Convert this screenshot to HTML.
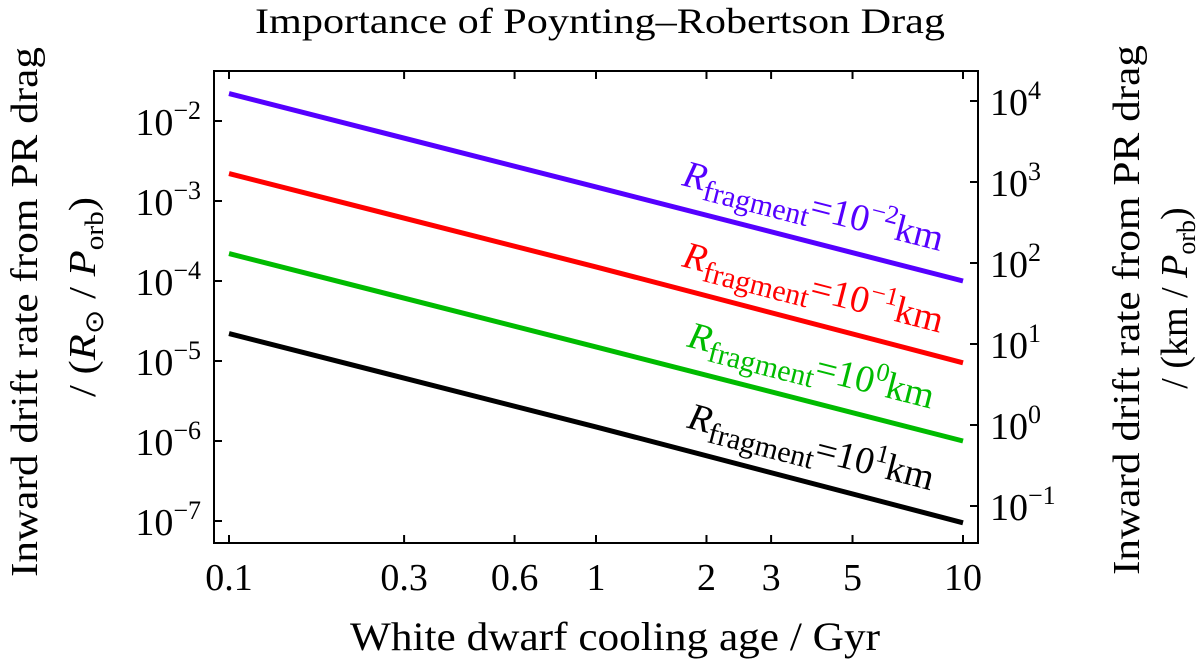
<!DOCTYPE html>
<html><head><meta charset="utf-8"><style>
html,body{margin:0;padding:0;background:#fff}
svg text{font-family:"Liberation Serif",serif}
</style></head><body>
<svg id="chart" width="1200" height="666" viewBox="0 0 1200 666" xmlns="http://www.w3.org/2000/svg">
<text x="600" y="33" text-anchor="middle" font-size="36" textLength="690" lengthAdjust="spacingAndGlyphs">Importance of Poynting–Robertson Drag</text>
<rect x="214" y="71" width="764" height="472" fill="none" stroke="#000" stroke-width="2"/>
<g id="xticks"></g>
<g id="yticks"></g>
<g id="yrticks"></g>
<g id="lines"></g>
<text x="615" y="650" text-anchor="middle" font-size="40" textLength="530" lengthAdjust="spacingAndGlyphs">White dwarf cooling age / Gyr</text>
<text transform="translate(37,312) rotate(-90)" text-anchor="middle" font-size="38" textLength="530" lengthAdjust="spacingAndGlyphs">Inward drift rate from PR drag</text>
<text transform="translate(95,297) rotate(-90)" text-anchor="middle" font-size="38" textLength="200" lengthAdjust="spacingAndGlyphs">/ (<tspan font-style="italic">R</tspan><tspan font-size="26" dy="8">⊙</tspan><tspan dy="-8"> / </tspan><tspan font-style="italic">P</tspan><tspan font-size="26" dy="8">orb</tspan><tspan dy="-8">)</tspan></text>
<text transform="translate(1139,310) rotate(-90)" text-anchor="middle" font-size="38" textLength="530" lengthAdjust="spacingAndGlyphs">Inward drift rate from PR drag</text>
<text transform="translate(1187,298) rotate(-90)" text-anchor="middle" font-size="38">/ (km / <tspan font-style="italic">P</tspan><tspan font-size="26" dy="8">orb</tspan><tspan dy="-8">)</tspan></text>
</svg>
<script>
const xTicks=[0.1,0.3,0.6,1,2,3,5,10];
const xTickLabels=["0.1","0.3","0.6","1","2","3","5","10"];
const yExps=[-2,-3,-4,-5,-6,-7];
const yrExps=[4,3,2,1,0,-1];
const ages=[0.1,1,10];
const purpleVals=[2.2e-2,1.5e-3,1.0e-4];
const redVals=[2.2e-3,1.5e-4,9.5e-6];
const greenVals=[2.2e-4,1.5e-5,1.0e-6];
const blackVals=[2.2e-5,1.5e-6,9.5e-8];
const labelExps=["-2","-1","0","1"];

const NS="http://www.w3.org/2000/svg";
const X=v=>229+367*Math.log10(v/0.1);
const Y=v=>121+80*(-2-Math.log10(v));
const YR=v=>425-81*Math.log10(v);
function mk(tag,attrs,parent){const e=document.createElementNS(NS,tag);for(const k in attrs)e.setAttribute(k,attrs[k]);parent.appendChild(e);return e;}
const sup=e=>(e<0?'−'+(-e):''+e);
const gx=document.getElementById('xticks');
xTicks.forEach((t,i)=>{
  const x=X(t);
  const a=mk('line',{x1:x,x2:x,y1:543,y2:535,stroke:'#000','stroke-width':2},gx);
  
  
  const b=mk('line',{x1:x,x2:x,y1:71,y2:79,stroke:'#000','stroke-width':2},gx);
  
  
  const tx=mk('text',{x:x,y:590,'text-anchor':'middle','font-size':38},gx);
  tx.textContent=xTickLabels[i];
  
  
});
const gy=document.getElementById('yticks');
yExps.forEach(e=>{
  const y=Y(Math.pow(10,e));
  const l=mk('line',{x1:214,x2:222,y1:y,y2:y,stroke:'#000','stroke-width':2},gy);
  
  
  const t=mk('text',{x:201,y:y+14,'text-anchor':'end','font-size':38},gy);
  t.innerHTML='10<tspan font-size="26" dy="-16">'+sup(e)+'</tspan>';
  
  
});
const gr=document.getElementById('yrticks');
yrExps.forEach(e=>{
  const y=YR(Math.pow(10,e));
  const l=mk('line',{x1:970,x2:978,y1:y,y2:y,stroke:'#000','stroke-width':2},gr);
  
  
  const t=mk('text',{x:990,y:y+14,'text-anchor':'start','font-size':38},gr);
  t.innerHTML='10<tspan font-size="26" dy="-16">'+sup(e)+'</tspan>';
  
  
});
const gl=document.getElementById('lines');
const series=[[purpleVals,'#5500ff','purple'],[redVals,'#ff0000','red'],[greenVals,'#00bb00','green'],[blackVals,'#000000','black']];
series.forEach((s,i)=>{
  const vals=s[0];
  const pts=ages.map((a,j)=>X(a)+','+Y(vals[j])).join(' ');
  const p=mk('polyline',{points:pts,fill:'none',stroke:s[1],'stroke-width':5},gl);
  
  
  const x0=X(ages[0]),x1=X(ages[ages.length-1]);
  const y0=Y(vals[0]),y1=Y(vals[vals.length-1]);
  const ang=Math.atan2(y1-y0,x1-x0)*180/Math.PI;
  const lx=681+(i>1?5:0);
  const ly=y0+(y1-y0)*(lx-x0)/(x1-x0)-24;
  const t=mk('text',{transform:'translate('+lx+','+ly+') rotate('+ang+')',fill:s[1],'font-size':38},gl);
  t.innerHTML='<tspan font-style="italic">R</tspan><tspan font-size="30" dy="9">fragment</tspan><tspan dy="-9">=10</tspan><tspan font-size="26" dy="-15">'+sup(parseInt(labelExps[i]))+'</tspan><tspan dy="15">km</tspan>';
  
  
});
</script>
</body></html>
